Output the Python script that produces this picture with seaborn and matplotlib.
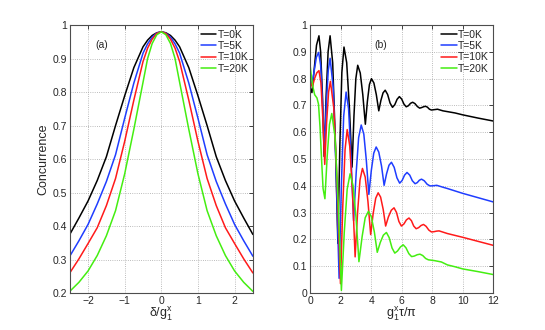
import matplotlib
matplotlib.use("Agg")
import matplotlib.pyplot as plt
from matplotlib.lines import Line2D
import seaborn as sns
import pandas as pd

sns.set_theme(style="white")
plt.rcParams["font.family"] = ["Liberation Sans", "DejaVu Sans"]
plt.rcParams["mathtext.default"] = "regular"

LABELS = ["T=0K", "T=5K", "T=10K", "T=20K"]
COLORS = ["#000000", "#1f3dff", "#ff1a1a", "#44ee11"]

# ---- panel (a): concurrence vs detuning ----
DELTA = [-2.5, -2.25, -2.0, -1.75, -1.5, -1.25, -1.0, -0.75, -0.5, -0.375, -0.25,
         -0.125, 0.0, 0.125, 0.25, 0.375, 0.5, 0.75, 1.0, 1.25, 1.5, 1.75, 2.0,
         2.25, 2.5]
A_T0 = [0.375, 0.424, 0.475, 0.536, 0.607, 0.700, 0.789, 0.873, 0.935, 0.955,
        0.969, 0.977, 0.980, 0.977, 0.969, 0.955, 0.935, 0.873, 0.789, 0.700,
        0.607, 0.536, 0.475, 0.424, 0.375]
A_T5 = [0.310, 0.356, 0.405, 0.466, 0.533, 0.613, 0.722, 0.827, 0.916, 0.944,
        0.964, 0.976, 0.980, 0.976, 0.964, 0.944, 0.916, 0.827, 0.722, 0.613,
        0.533, 0.466, 0.405, 0.356, 0.310]
A_T10 = [0.260, 0.302, 0.348, 0.395, 0.461, 0.542, 0.653, 0.776, 0.891, 0.931,
         0.958, 0.975, 0.980, 0.975, 0.958, 0.931, 0.891, 0.776, 0.653, 0.542,
         0.461, 0.395, 0.348, 0.302, 0.260]
A_T20 = [0.205, 0.232, 0.266, 0.312, 0.371, 0.446, 0.556, 0.689, 0.829, 0.900,
         0.945, 0.971, 0.980, 0.971, 0.945, 0.900, 0.829, 0.689, 0.556, 0.446,
         0.371, 0.312, 0.266, 0.232, 0.205]

# ---- panel (b): concurrence vs time ----
B_X_T0 = [0.00, 0.12, 0.26, 0.42, 0.58, 0.69, 0.81, 0.92, 1.05, 1.18, 1.31,
          1.48, 1.65, 1.82, 1.95, 2.08, 2.22, 2.397, 2.573, 2.75, 2.873, 2.997,
          3.12, 3.287, 3.453, 3.62, 3.753, 3.887, 4.02, 4.18, 4.34, 4.50, 4.64,
          4.78, 4.92, 5.08, 5.24, 5.40, 5.55, 5.70, 5.85, 6.00, 6.15, 6.30, 6.44,
          6.58, 6.72, 6.87, 7.03, 7.18, 7.30, 7.43, 7.55, 7.68, 7.82, 7.95, 8.08,
          8.22, 8.35, 8.70, 9.00, 9.50, 10.0, 11.0, 12.0]
B_Y_T0 = [0.767, 0.748, 0.830, 0.925, 0.960, 0.901, 0.735, 0.510, 0.735, 0.901,
          0.960, 0.859, 0.573, 0.185, 0.552, 0.823, 0.918, 0.860, 0.694, 0.470,
          0.660, 0.800, 0.850, 0.821, 0.740, 0.630, 0.715, 0.778, 0.800, 0.784,
          0.740, 0.680, 0.719, 0.747, 0.757, 0.741, 0.709, 0.693, 0.703, 0.723,
          0.733, 0.724, 0.705, 0.695, 0.699, 0.708, 0.712, 0.707, 0.696, 0.690,
          0.692, 0.695, 0.697, 0.694, 0.686, 0.683, 0.684, 0.685, 0.686, 0.680,
          0.677, 0.672, 0.665, 0.653, 0.642]

B_X_T5 = [0.00, 0.12, 0.27, 0.41, 0.56, 0.69, 0.81, 0.94, 1.06, 1.19, 1.31, 1.51,
          1.70, 1.90, 2.05, 2.20, 2.36, 2.52, 2.68, 2.85, 3.02, 3.18, 3.35, 3.52,
          3.68, 3.85, 4.01, 4.17, 4.33, 4.50, 4.68, 4.85, 5.01, 5.17, 5.33, 5.51,
          5.69, 5.87, 6.03, 6.19, 6.35, 6.53, 6.70, 6.88, 7.02, 7.16, 7.30, 7.48,
          7.67, 7.85, 8.00, 8.15, 8.30, 8.70, 9.00, 9.50, 10.0, 11.0, 12.0]
B_Y_T5 = [0.800, 0.775, 0.830, 0.880, 0.898, 0.850, 0.714, 0.530, 0.703, 0.831,
          0.876, 0.769, 0.466, 0.055, 0.403, 0.660, 0.750, 0.688, 0.510, 0.270,
          0.449, 0.580, 0.627, 0.593, 0.498, 0.368, 0.457, 0.522, 0.545, 0.526,
          0.474, 0.402, 0.445, 0.477, 0.488, 0.469, 0.430, 0.410, 0.420, 0.440,
          0.450, 0.440, 0.419, 0.408, 0.412, 0.421, 0.425, 0.419, 0.406, 0.400,
          0.400, 0.401, 0.402, 0.395, 0.390, 0.381, 0.372, 0.356, 0.340]

B_X_T10 = [0.00, 0.15, 0.29, 0.44, 0.58, 0.71, 0.83, 0.96, 1.08, 1.21, 1.33, 1.55,
           1.77, 1.99, 2.14, 2.29, 2.43, 2.60, 2.78, 2.95, 3.11, 3.27, 3.43, 3.61,
           3.79, 3.97, 4.13, 4.30, 4.46, 4.62, 4.79, 4.95, 5.13, 5.32, 5.50, 5.66,
           5.82, 5.98, 6.15, 6.31, 6.48, 6.64, 6.79, 6.95, 7.11, 7.27, 7.43, 7.60,
           7.78, 7.95, 8.12, 8.28, 8.45, 9.00, 9.50, 10.0, 11.0, 12.0]
B_Y_T10 = [0.790, 0.770, 0.800, 0.822, 0.830, 0.785, 0.655, 0.480, 0.635, 0.750,
           0.790, 0.692, 0.412, 0.035, 0.322, 0.535, 0.610, 0.548, 0.372, 0.135,
           0.300, 0.422, 0.465, 0.433, 0.342, 0.218, 0.296, 0.354, 0.374, 0.358,
           0.312, 0.250, 0.284, 0.309, 0.318, 0.301, 0.267, 0.250, 0.258, 0.273,
           0.280, 0.270, 0.250, 0.240, 0.244, 0.252, 0.256, 0.249, 0.235, 0.228,
           0.229, 0.231, 0.232, 0.222, 0.215, 0.208, 0.193, 0.178]

B_X_T20 = [0.00, 0.10, 0.20, 0.30, 0.45, 0.55, 0.65, 0.75, 0.85, 0.97, 1.12, 1.27,
           1.42, 1.63, 1.84, 2.05, 2.24, 2.43, 2.62, 2.81, 3.01, 3.20, 3.41, 3.61,
           3.82, 4.01, 4.21, 4.40, 4.60, 4.80, 5.00, 5.18, 5.37, 5.55, 5.73, 5.92,
           6.10, 6.28, 6.47, 6.65, 6.83, 7.02, 7.20, 7.38, 7.57, 7.75, 8.15, 8.60,
           9.00, 9.50, 10.0, 11.0, 12.0]
B_Y_T20 = [0.850, 0.800, 0.765, 0.740, 0.728, 0.705, 0.620, 0.500, 0.390, 0.352,
           0.511, 0.629, 0.670, 0.584, 0.340, 0.010, 0.228, 0.388, 0.445, 0.402,
           0.281, 0.117, 0.211, 0.281, 0.305, 0.285, 0.228, 0.152, 0.189, 0.216,
           0.226, 0.207, 0.168, 0.149, 0.157, 0.172, 0.180, 0.169, 0.147, 0.136,
           0.138, 0.143, 0.145, 0.140, 0.129, 0.124, 0.121, 0.116, 0.105, 0.098,
           0.090, 0.080, 0.069]


def long_frame(xs_list, ys_list):
    parts = [pd.DataFrame({"x": xs, "y": ys, "T": lab})
             for xs, ys, lab in zip(xs_list, ys_list, LABELS)]
    return pd.concat(parts, ignore_index=True)


df_a = long_frame([DELTA] * 4, [A_T0, A_T5, A_T10, A_T20])
df_b = long_frame([B_X_T0, B_X_T5, B_X_T10, B_X_T20],
                  [B_Y_T0, B_Y_T5, B_Y_T10, B_Y_T20])


def style(ax, xlim, ylim, xticks, yticks):
    ax.set_xlim(*xlim)
    ax.set_ylim(*ylim)
    ax.set_xticks(xticks)
    ax.set_yticks(yticks)
    ax.set_yticklabels([f"{v:g}" for v in yticks])
    ax.grid(True, linestyle=":", color="0.65", linewidth=0.6)
    ax.tick_params(direction="in", length=3, width=0.6, top=True, right=True,
                   labelsize=7.5, pad=2, colors="0.15")
    for sp in ax.spines.values():
        sp.set_color("0.3")
        sp.set_linewidth(0.8)
    handles = [Line2D([], [], color=c, lw=1.1) for c in COLORS]
    ax.legend(handles, LABELS, loc="upper right", frameon=False, fontsize=7.5,
              handlelength=1.5, handletextpad=0.1, labelspacing=0.12,
              borderaxespad=0.25, borderpad=0.2)


fig = plt.figure(figsize=(5.45, 3.3), dpi=100)
ax1 = fig.add_axes([0.128, 0.112, 0.336, 0.812])
ax2 = fig.add_axes([0.569, 0.112, 0.336, 0.812])

sns.lineplot(data=df_a, x="x", y="y", hue="T", hue_order=LABELS,
             palette=COLORS, estimator=None, sort=False, linewidth=1.1,
             legend=False, ax=ax1)
sns.lineplot(data=df_b, x="x", y="y", hue="T", hue_order=LABELS,
             palette=COLORS, estimator=None, sort=False, linewidth=1.1,
             legend=False, ax=ax2)

style(ax1, (-2.5, 2.5), (0.2, 1.0), [-2, -1, 0, 1, 2],
      [0.2, 0.3, 0.4, 0.5, 0.6, 0.7, 0.8, 0.9, 1.0])
style(ax2, (0, 12), (0, 1.0), [0, 2, 4, 6, 8, 10, 12],
      [0, 0.1, 0.2, 0.3, 0.4, 0.5, 0.6, 0.7, 0.8, 0.9, 1.0])

ax1.set_xlabel(r"$\delta/g_1^x$", fontsize=9, labelpad=0)
ax1.set_ylabel("Concurrence", fontsize=9, labelpad=2)
ax2.set_xlabel(r"$g_1^x\tau/\pi$", fontsize=9, labelpad=0)
ax2.set_ylabel("")
ax1.text(-1.63, 0.942, "(a)", fontsize=7.5, ha="center", va="center")
ax2.text(4.6, 0.925, "(b)", fontsize=7.5, ha="center", va="center")

fig.savefig("out.png", dpi=100, facecolor="white")
